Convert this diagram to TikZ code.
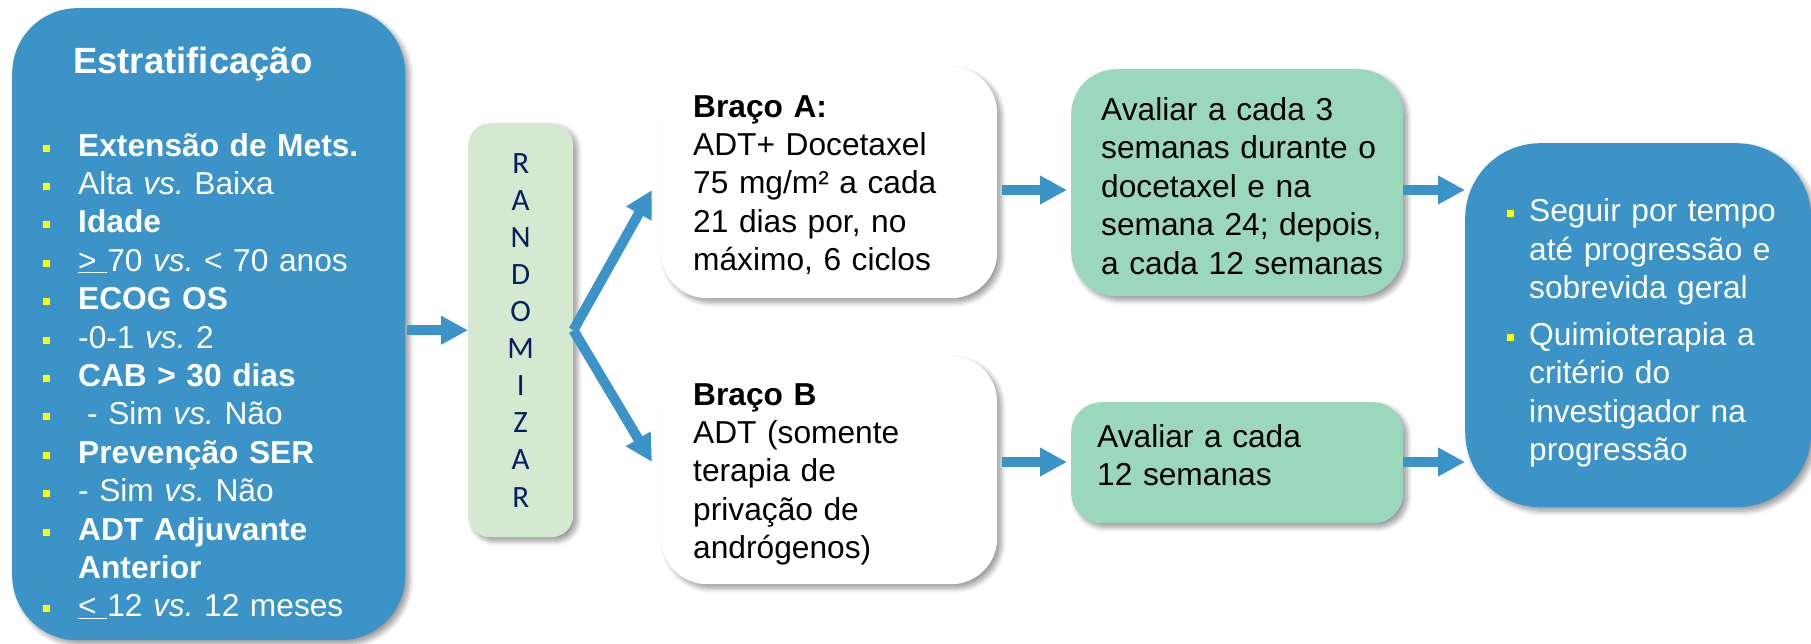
\documentclass[tikz,border=0pt]{standalone}
\usepackage{fontspec}
\setmainfont{Liberation Sans}
\newfontfamily\randfont{Carlito}
\usetikzlibrary{arrows.meta,shadows,shadows.blur}
\definecolor{boxblue}{RGB}{59,147,199}
\definecolor{randgreen}{RGB}{213,232,208}
\definecolor{evalgreen}{RGB}{154,215,187}
\definecolor{randnavy}{RGB}{0,32,96}
\definecolor{bulletyellow}{RGB}{255,255,0}
\def\bul#1{\makebox[#1][l]{\textcolor{bulletyellow}{\rule[4.5pt]{7pt}{7pt}}}}
\tikzset{
	roundbox/.style={rectangle, draw=none, inner sep=0pt, anchor=north west, blur shadow={shadow xshift=4pt, shadow yshift=-4pt, shadow blur radius=5pt, shadow blur steps=8, shadow opacity=40}},
	txt/.style={inner sep=0pt, anchor=base west, align=left, text width=330pt, font=\fontsize{31.7}{38.4}\selectfont},
	arrowline/.style={line width=10pt, color=boxblue, -{Triangle[length=27pt,width=27pt]}}
}
\frenchspacing

\begin{document}
\begin{tikzpicture}[x=1pt, y=-1pt]
		%%%%% START %%%%%
		\useasboundingbox (0,0) rectangle (1811,643);
		
		\coordinate (rowA) at (0,190);
		\coordinate (rowB) at (0,462);
		
		% stratification
		\node[roundbox, fill=boxblue, rounded corners=65pt, minimum width=393pt, minimum height=632pt] (strat) at (12,8) {};
		\node[txt, text=white, font=\fontsize{36.5}{44}\selectfont\bfseries] (title) at (73,73) {Estratificação};
		\node[txt, text=white] (stratlist) at (43,156) {\bul{35pt}\textbf{Extensão de Mets.}\\
			\bul{35pt}Alta \textit{vs.} Baixa\\
			\bul{35pt}\textbf{Idade}\\
			\bul{35pt}\underline{>\ }70 \textit{vs.} < 70 anos\\
			\bul{35pt}\textbf{ECOG OS}\\
			\bul{35pt}-0-1 \textit{vs.} 2\\
			\bul{35pt}\textbf{CAB > 30 dias}\\
			\bul{35pt}\hspace*{9pt}- Sim \textit{vs.} Não\\
			\bul{35pt}\textbf{Prevenção SER}\\
			\bul{35pt}- Sim \textit{vs.} Não\\
			\bul{35pt}\textbf{ADT Adjuvante}\\
			\hspace*{35pt}\textbf{Anterior}\\
			\bul{35pt}\underline{<\ }12 \textit{vs.} 12 meses};
		
		% randomization
		\node[roundbox, fill=randgreen, rounded corners=22pt, minimum height=414pt, text width=105pt, align=center, text=randnavy, font=\randfont\fontsize{31}{37.1}\selectfont] (randbox) at (468,123) {R\\A\\N\\D\\O\\M\\I\\Z\\A\\R};
		
		% arms
		\node[roundbox, fill=white, rounded corners=46pt, minimum width=336pt, minimum height=231pt] (armA) at (661,67) {};
		\node[txt] (armAtext) at (693,117) {\textbf{Braço A:}\\ADT+ Docetaxel\\75 mg/m² a cada\\21 dias por, no\\máximo, 6 ciclos};
		\node[roundbox, fill=white, rounded corners=46pt, minimum width=336pt, minimum height=228pt] (armB) at (661,356) {};
		\node[txt] (armBtext) at (693,405) {\textbf{Braço B}\\ADT (somente\\terapia de\\privação de\\andrógenos)};
		
		% evaluation
		\node[roundbox, fill=evalgreen, rounded corners=45pt, minimum width=332pt, minimum height=227pt] (evalA) at (1071,69) {};
		\node[txt] (evalAtext) at (1101,120.5) {Avaliar a cada 3\\semanas durante o\\docetaxel e na\\semana 24; depois,\\a cada 12 semanas};
		\node[roundbox, fill=evalgreen, rounded corners=30pt, minimum width=332pt, minimum height=121pt] (evalB) at (1071,402) {};
		\node[txt] (evalBtext) at (1097,447.3) {Avaliar a cada\\12 semanas};
		
		% follow-up
		\node[roundbox, fill=boxblue, rounded corners=75pt, minimum width=346pt, minimum height=364pt] (follow) at (1465,143) {};
		\node[txt, text=white] (followtext) at (1507,221.7) {\bul{22pt}Seguir por tempo\\
			\hspace*{22pt}até progressão e\\
			\hspace*{22pt}sobrevida geral\\[8.3pt]
			\bul{22pt}Quimioterapia a\\
			\hspace*{22pt}critério do\\
			\hspace*{22pt}investigador na\\
			\hspace*{22pt}progressão};
		
		% arrows
		\draw[arrowline] ([xshift=2pt]strat.east |- randbox.center) -- (randbox.west);
		\draw[arrowline] (randbox.east) -- ([xshift=-9pt]armA.west |- rowA);
		\draw[arrowline] (randbox.east) -- ([xshift=-9pt]armB.west |- rowB);
		\draw[arrowline] ([xshift=5pt]armA.east |- rowA) -- ([xshift=-4pt]evalA.west |- rowA);
		\draw[arrowline] ([xshift=5pt]armB.east |- rowB) -- ([xshift=-4pt]evalB.west |- rowB);
		\draw[arrowline] (evalA.east |- rowA) -- (follow.west |- rowA);
		\draw[arrowline] (evalB.east |- rowB) -- (follow.west |- rowB);
		
		%%%%% END %%%%%
\end{tikzpicture}
\end{document}
